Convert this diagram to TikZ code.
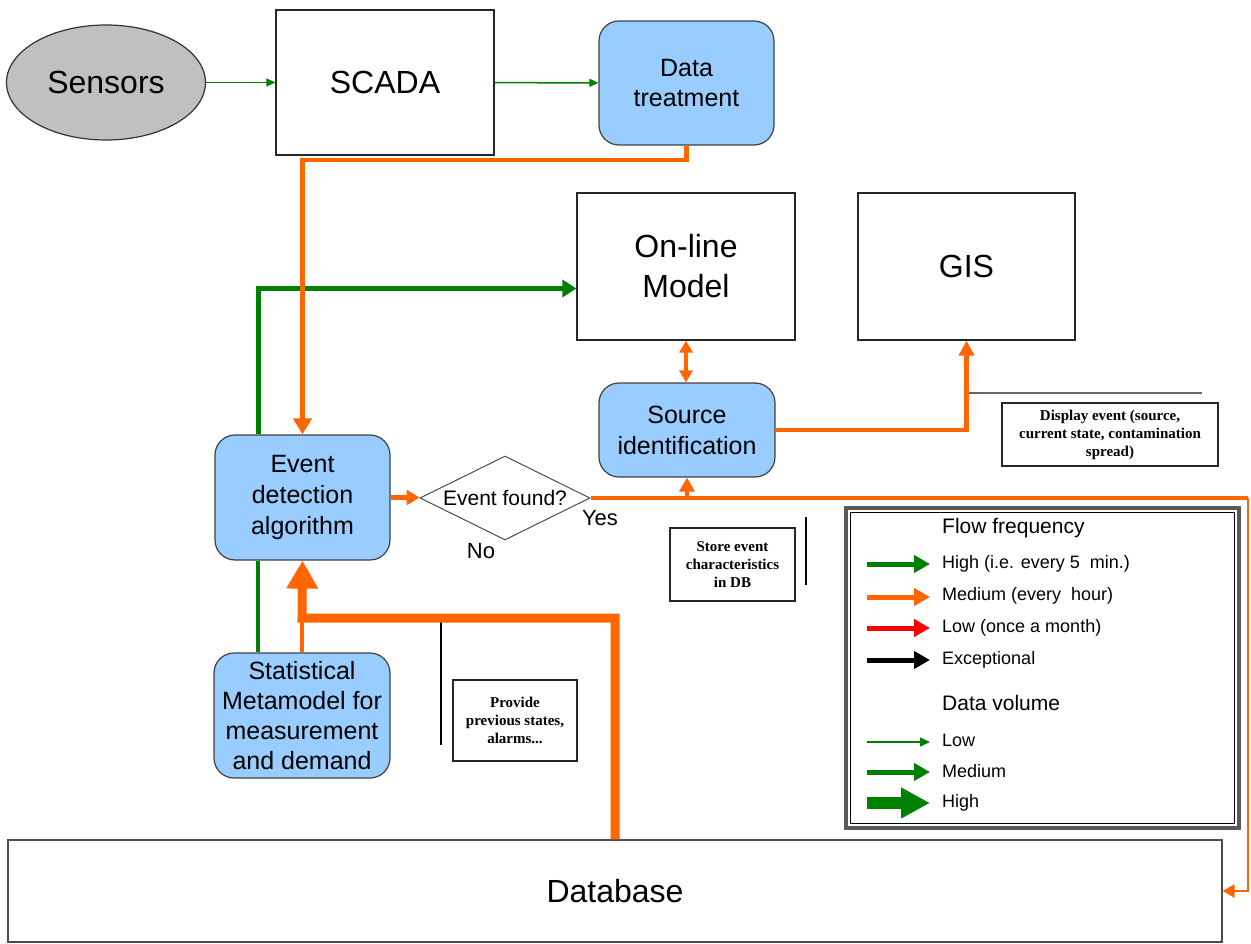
\documentclass[tikz,border=0pt]{standalone}
\usepackage{fontspec}
\setmainfont{Liberation Sans}
\newfontfamily\annfont{Liberation Serif}
\usetikzlibrary{arrows.meta,shapes.geometric}
\definecolor{og}{HTML}{FF6600}
\definecolor{gn}{HTML}{008000}
\definecolor{bl}{HTML}{99CCFF}
\definecolor{sg}{HTML}{C0C0C0}
\newcommand{\fsz}[2]{\fontsize{#1}{#2}\selectfont}
\begin{document}
\begin{tikzpicture}[x=1pt,y=-1pt,
  sq/.style={draw=black!85, line width=1.2pt, fill=white, align=center, inner sep=0pt},
  rb/.style={draw=black!75, line width=1.2pt, fill=bl, rounded corners=20pt, align=center, inner sep=0pt},
  ann/.style={draw=black!85, line width=1.2pt, fill=white, align=center, inner sep=0pt, font=\annfont\bfseries\fsz{15}{18}},
  gthin/.style={draw=gn, line width=1.5pt, -{Triangle[length=9pt,width=8pt]}},
  gmed/.style={draw=gn, line width=4.5pt},
  omed/.style={draw=og, line width=4.5pt},
  othick/.style={draw=og, line width=9pt},
  annline/.style={line width=1.2pt},
  legtxt/.style={anchor=west, inner sep=0pt, font=\fsz{18}{20}},
  leghead/.style={anchor=west, inner sep=0pt, font=\fsz{21}{24}}
]
\useasboundingbox (0,0) rectangle (1251,944);

% nodes
\node[ellipse, draw=black!80, line width=1.2pt, fill=sg, minimum width=199pt, minimum height=115pt, inner sep=0pt, font=\fsz{32}{36}] (sens) at (106,82.5) {Sensors};
\node[sq, minimum width=218pt, minimum height=145pt, font=\fsz{32}{36}] (scada) at (385,82.5) {SCADA};
\node[rb, minimum width=175pt, minimum height=124pt, font=\fsz{25}{30}] (dt) at (686.5,83) {Data\\treatment};
\node[sq, minimum width=218pt, minimum height=147pt, font=\fsz{32}{40}] (model) at (686,266.5) {On-line\\Model};
\node[sq, minimum width=217pt, minimum height=147pt, font=\fsz{32}{40}] (gis) at (966.5,266.5) {GIS};
\node[rb, minimum width=176pt, minimum height=94pt, font=\fsz{25}{31}] (src) at (687,430) {Source\\identification};
\node[rb, minimum width=175pt, minimum height=125pt, font=\fsz{25}{31}] (ev) at (302.5,497.5) {Event\\detection\\algorithm};
\node[diamond, draw=black!70, line width=1pt, fill=white, minimum width=170pt, minimum height=84pt, inner sep=0pt, aspect=2, font=\fsz{21}{24}] (dia) at (505,498) {Event found?};
\node[font=\fsz{22}{26}, inner sep=0pt] (yes) at (600,518) {Yes};
\node[font=\fsz{22}{26}, inner sep=0pt] (no) at (481,551) {No};
\node[rb, minimum width=176pt, minimum height=125pt, font=\fsz{25}{30}] (stat) at (302,715.5) {Statistical\\Metamodel for\\measurement\\and demand};
\node[sq, draw=black!70, minimum width=1214pt, minimum height=102pt, font=\fsz{32}{36}] (db) at (615,891) {Database};

% annotations
\node[ann, minimum width=216pt, minimum height=63pt] (ad) at (1110,434.5) {Display event (source,\\current state, contamination\\spread)};
\node[ann, minimum width=125pt, minimum height=73pt] (as) at (732.5,564.5) {Store event\\characteristics\\in DB};
\node[ann, minimum width=124pt, minimum height=81pt] (ap) at (515,720.5) {Provide\\previous states,\\alarms...};
\coordinate (l1a) at (968,393); \coordinate (l1b) at (1202,393);
\coordinate (l2a) at (806,517); \coordinate (l2b) at (806,585);
\coordinate (l3a) at (441,622); \coordinate (l3b) at (441,745);
\draw[annline, draw=black!60, line width=1.8pt] (l1a) -- (l1b);
\draw[annline] (l2a) -- (l2b);
\draw[annline] (l3a) -- (l3b);

% connectors
\draw[gthin] (sens) -- (scada);
\draw[gthin] (scada) -- (dt);
\draw[gmed, -{Triangle[length=14pt,width=17pt]}] ([xshift=-44pt]ev.north) |- ([yshift=-22pt]model.west);
\draw[gmed] ([xshift=-44pt]stat.north) -- ([xshift=-44pt]stat.north |- ev.south);
\coordinate (b1) at (686,160);
\draw[omed, -{Triangle[length=16pt,width=18pt]}] (dt.south) |- (ev.north |- b1) -- (ev.north);
\draw[draw=og, line width=3.5pt, {Triangle[length=12pt,width=13pt]}-{Triangle[length=12pt,width=13pt]}] (model.south) -- (model.south |- src.north);
\draw[omed, -{Triangle[length=15pt,width=15pt]}] (src.east) -| (gis.south);
\draw[omed, -{Triangle[length=13pt,width=15pt]}] (ev.east) -- (ev.east -| dia.west);
\coordinate (rc) at (1248,497);
\draw[omed] (dia.east) -- (dia.east -| rc);
\draw[draw=og, line width=2.5pt, -{Triangle[length=12pt,width=13pt]}] (dia.east -| rc) |- (db.east);
\draw[draw=og, line width=4pt, -{Triangle[length=14pt,width=15pt]}] (dia.east -| src.south) -- (src.south);
\coordinate (jn) at (302,618);
\draw[othick, -{Triangle[length=28pt,width=30pt]}] (db.north) |- (jn) -- (ev.south);
\draw[omed] (stat.north) -- (stat.north |- jn);

% legend
\node[draw=black!65, line width=3.5pt, minimum width=393pt, minimum height=320pt, inner sep=0pt] (leg) at (1042.5,668) {};
\node[draw=black, line width=1pt, minimum width=384pt, minimum height=311pt, inner sep=0pt] (legin) at (1042.5,668) {};
\node[leghead] (h1) at (942,528) {Flow frequency};
\node[legtxt] (t1) at (942,564) {High (i.e. every 5 \ min.)};
\node[legtxt] (t2) at (942,596) {Medium (every \ hour)};
\node[legtxt] (t3) at (942,628) {Low (once a month)};
\node[legtxt] (t4) at (942,660) {Exceptional};
\node[leghead] (h2) at (942,703) {Data volume};
\node[legtxt] (t5) at (942,740) {Low};
\node[legtxt] (t6) at (942,771) {Medium};
\node[legtxt] (t7) at (942,803) {High};
\foreach \yy/\cc in {564/gn,597/og,628/red,660/black}{
  \draw[draw=\cc, line width=5pt, -{Triangle[length=16pt,width=17pt]}] (867,\yy) -- (930,\yy);
}
\draw[draw=gn, line width=1.5pt, -{Triangle[length=10pt,width=9pt]}] (867,742) -- (930,742);
\draw[draw=gn, line width=5pt, -{Triangle[length=16pt,width=17pt]}] (867,772) -- (930,772);
\draw[draw=gn, line width=12pt, -{Triangle[length=29pt,width=29pt]}] (867,803) -- (930,803);
\end{tikzpicture}
\end{document}
